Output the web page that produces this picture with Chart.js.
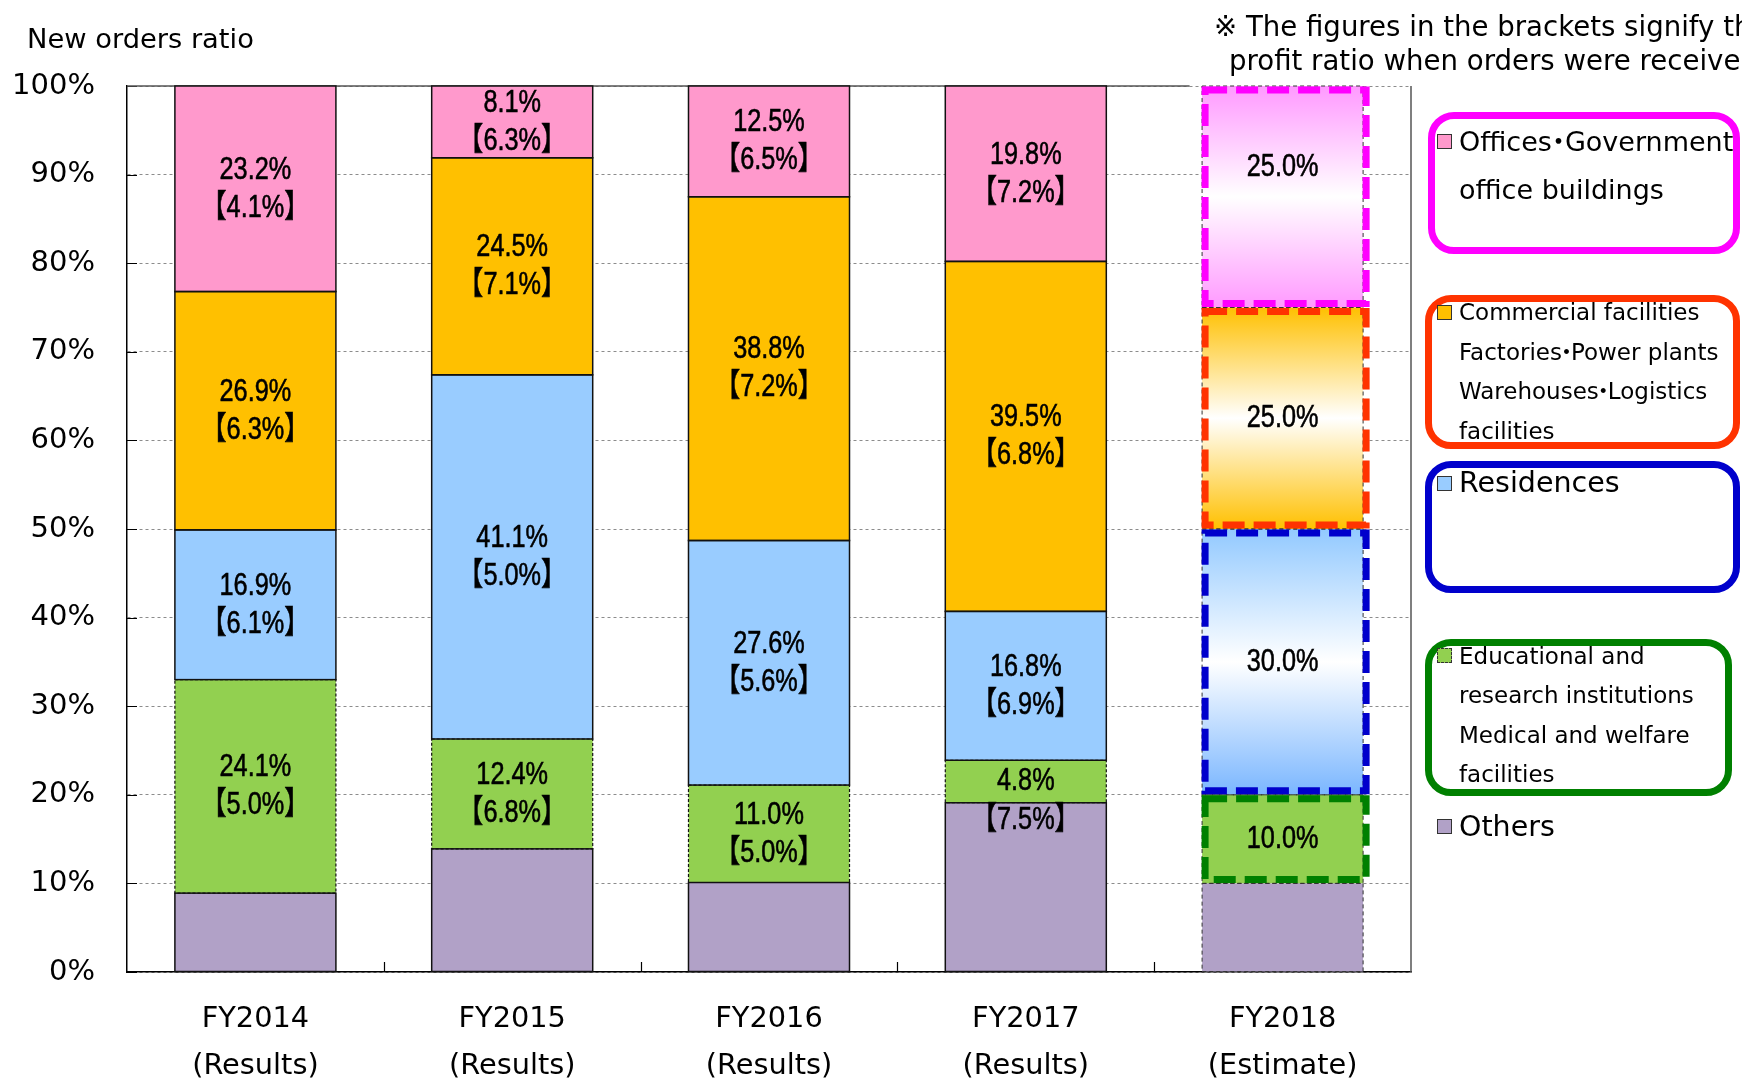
<!DOCTYPE html>
<html>
<head>
<meta charset="utf-8">
<script src="https://cdn.jsdelivr.net/npm/chart.js@4.4.0/dist/chart.umd.min.js"></script>
<style>
  html, body { margin: 0; padding: 0; background: #fff; overflow: hidden; }
  #wrap { position: relative; width: 1742px; height: 1080px; overflow: hidden;
          font-family: "DejaVu Sans", "Noto Sans CJK JP", sans-serif; color: #000; }
  #chart { position: absolute; left: 0; top: 0; }
  .txt { position: absolute; white-space: nowrap; line-height: 1; transform: translateY(-50%); }
  .box { position: absolute; box-sizing: border-box; border: 7px solid; border-radius: 26px; }
  .sq  { position: absolute; width: 15px; height: 15px; box-sizing: border-box; border: 1px solid #333; }
  .dot { margin: 0 -7px; }
</style>
</head>
<body>
<div id="wrap">
  <canvas id="chart" width="1742" height="1080"></canvas>
  <div class="txt" style="left:27px; top:39px; font-size:27.3px;">New orders ratio</div>
  <div class="txt" style="left:1214px; top:27px; font-size:27.6px;">※ The figures in the brackets signify the</div>
  <div class="txt" style="left:1229px; top:61px; font-size:27.6px;">profit ratio when orders were received</div>
  <div id="legend"></div>
</div>
<script>
"use strict";

const $ = id => document.getElementById(id);

// ── Data
const years      = ["FY2014", "FY2015", "FY2016", "FY2017", "FY2018"];
const phases     = ["(Results)", "(Results)", "(Results)", "(Results)", "(Estimate)"];
const others     = [8.9, 13.9, 10.1, 19.1, 10.0];
const education  = [24.1, 12.4, 11.0, 4.8, 10.0];
const residences = [16.9, 41.1, 27.6, 16.8, 30.0];
const commercial = [26.9, 24.5, 38.8, 39.5, 25.0];
const offices    = [23.2, 8.1, 12.5, 19.8, 25.0];
// gross profit ratio at order time (the bracket figures)
const eduProfit  = [5.0, 6.8, 5.0, 7.5, null];
const resProfit  = [6.1, 5.0, 5.6, 6.9, null];
const comProfit  = [6.3, 7.1, 7.2, 6.8, null];
const offProfit  = [4.1, 6.3, 6.5, 7.2, null];
const yTicks     = [0, 10, 20, 30, 40, 50, 60, 70, 80, 90, 100];

const legendNames = [
  ["Offices・Government", "office buildings"],
  ["Commercial facilities", "Factories・Power plants", "Warehouses・Logistics", "facilities"],
  ["Residences"],
  ["Educational and", "research institutions", "Medical and welfare", "facilities"],
  ["Others"],
];

const ESTIMATE = 4;   // index of the estimate bar
const LABEL_FONT = '32px "Liberation Sans", "Noto Sans CJK JP", sans-serif';
const LABEL_SQUEEZE = 0.79;

// ── Gradient fill for the estimate bar
function fillFor(color, grad) {
  return ctx => {
    const chart = ctx.chart, i = ctx.dataIndex;
    if (i !== ESTIMATE || !grad || !chart.chartArea) return color;
    const y = chart.scales.y;
    let start = 0;
    for (let k = 0; k < ctx.datasetIndex; k++) start += chart.data.datasets[k].data[i];
    const top = y.getPixelForValue(start + ctx.raw), bot = y.getPixelForValue(start);
    const g = chart.ctx.createLinearGradient(0, top, 0, bot);
    g.addColorStop(0, grad[0]); g.addColorStop(0.5, "#ffffff"); g.addColorStop(1, grad[1]);
    return g;
  };
}

function mkSet(label, data, profit, color, opts) {
  return Object.assign({
    label, data, profit,
    backgroundColor: fillFor(color, opts.grad),
    borderWidth: 0,
    barPercentage: 0.627, categoryPercentage: 1,
  }, opts);
}

const datasets = [
  mkSet(legendNames[4].join(" "), others,     null,      "#b1a1c7", { swatch: "#b1a1c7" }),
  mkSet(legendNames[3].join(" "), education,  eduProfit, "#92d050", { swatch: "#92d050", dotted: true, hi: "#008000" }),
  mkSet(legendNames[2].join(" "), residences, resProfit, "#99ccff", { swatch: "#99ccff", hi: "#0000cc", grad: ["#92c9ff", "#7ab6ff"] }),
  mkSet(legendNames[1].join(" "), commercial, comProfit, "#ffc000", { swatch: "#ffc000", hi: "#ff3300", grad: ["#ffc000", "#ffc000"] }),
  mkSet(legendNames[0].join(" "), offices,    offProfit, "#ff99cc", { swatch: "#ff99cc", hi: "#ff00ff", grad: ["#ff99ff", "#ff99ff"], top: true }),
];

// ── Frame: inward ticks, right border, solid 100% line
const framePlugin = {
  id: "frame",
  beforeDatasetsDraw(chart) {
    const c = chart.ctx, a = chart.chartArea, x = chart.scales.x, y = chart.scales.y;
    c.save();
    c.strokeStyle = "#000"; c.lineWidth = 1.2;
    c.beginPath();
    yTicks.forEach(v => { const py = Math.round(y.getPixelForValue(v)) + 0.5; c.moveTo(a.left, py); c.lineTo(a.left + 10, py); });
    for (let i = 1; i < years.length; i++) {
      const px = Math.round((x.getPixelForValue(i - 1) + x.getPixelForValue(i)) / 2) + 0.5;
      c.moveTo(px, a.bottom); c.lineTo(px, a.bottom - 10);
    }
    c.stroke();
    c.strokeStyle = "#555"; c.lineWidth = 1.5;
    c.beginPath();
    c.moveTo(a.right, a.top); c.lineTo(a.right, a.bottom);
    const topY = y.getPixelForValue(100);
    c.moveTo(a.left, topY); c.lineTo(x.getPixelForValue(ESTIMATE) - 93, topY);
    c.stroke();
    c.restore();
  }
};

// ── Segment outlines (solid / dotted / dashed estimate)
const outlinePlugin = {
  id: "outlines",
  afterDatasetsDraw(chart) {
    const c = chart.ctx;
    const rects = [];
    c.save();
    chart.data.datasets.forEach((ds, di) => {
      chart.getDatasetMeta(di).data.forEach((el, i) => {
        const { x, y, base, width } = el.getProps(["x", "y", "base", "width"], true);
        const r = { l: x - width / 2, t: y, w: width, h: base - y };
        if (i === ESTIMATE) {
          c.setLineDash([4, 3]); c.lineWidth = 1; c.strokeStyle = "#333";
          if (ds.hi) rects.push({ r, color: ds.hi });
        } else if (ds.dotted) {
          c.setLineDash([3, 2]); c.lineWidth = 1.2; c.strokeStyle = "#111";
        } else {
          c.setLineDash([]); c.lineWidth = 1.5; c.strokeStyle = "#111";
        }
        c.strokeRect(r.l, r.t, r.w, r.h);
      });
    });
    c.setLineDash([22, 9]); c.lineWidth = 7;
    rects.forEach(({ r, color }) => {
      c.strokeStyle = color;
      c.strokeRect(r.l + 3, r.t + 4, r.w, r.h - 8);
    });
    c.restore();
  }
};

// ── Value labels with bracketed profit ratio (condensed, slightly heavy)
function narrowText(c, text, x, y) {
  c.save();
  c.translate(x, y);
  c.scale(LABEL_SQUEEZE, 1);
  c.fillText(text, 0, 0);
  c.strokeText(text, 0, 0);
  c.restore();
}

const labelPlugin = {
  id: "segLabels",
  afterDatasetsDraw(chart) {
    const c = chart.ctx;
    c.save();
    c.font = LABEL_FONT; c.fillStyle = "#000"; c.strokeStyle = "#000"; c.lineWidth = 0.6;
    c.textAlign = "center"; c.textBaseline = "middle";
    chart.data.datasets.forEach((ds, di) => {
      if (!ds.profit) return;
      chart.getDatasetMeta(di).data.forEach((el, i) => {
        const { x, y, base } = el.getProps(["x", "y", "base"], true);
        const mid = (y + base) / 2, h = base - y;
        const val = ds.data[i].toFixed(1) + "%";
        const p = ds.profit[i];
        if (p == null) { narrowText(c, val, x, mid + (ds.top ? -30 : 0)); return; }
        const br = "【" + p.toFixed(1) + "%】";
        if (h < 60) { narrowText(c, val, x, mid); narrowText(c, br, x, mid + 39); }
        else        { narrowText(c, val, x, mid - 19); narrowText(c, br, x, mid + 19); }
      });
    });
    c.restore();
  }
};

new Chart($("chart").getContext("2d"), {
  type: "bar",
  data: { labels: years.map((y, i) => [y, phases[i]]), datasets },
  options: {
    responsive: false, animation: false,
    layout: { padding: { left: 0, top: 86, right: 331, bottom: 0 } },
    plugins: { legend: { display: false }, tooltip: { enabled: false } },
    scales: {
      x: {
        stacked: true,
        grid: { display: false, drawTicks: false },
        border: { display: true, color: "#000", width: 1.5 },
        ticks: { color: "#000", padding: 24, font: { family: "DejaVu Sans", size: 28.8, lineHeight: 1.63 }, maxRotation: 0 },
        afterFit: s => { s.height = 108; },
      },
      y: {
        stacked: true, min: 0, max: 100,
        grid: { color: "#8c8c8c", lineWidth: 1, drawTicks: false },
        border: { display: true, color: "#000", width: 1.5, dash: [3, 3] },
        ticks: { stepSize: 10, color: "#000", padding: 32, font: { family: "DejaVu Sans", size: 29 }, callback: v => v + "%" },
        afterFit: s => { s.width = 127; },
      },
    },
  },
  plugins: [framePlugin, outlinePlugin, labelPlugin],
});

// ── Legend (boxed groups on the right)
const LEGEND_LAYOUT = [
  { box: [1428, 112, 312, 142], color: "#ff00ff", first: 141, gap: 48, size: 27, set: 4 },
  { box: [1425, 295, 315, 154], color: "#ff3300", first: 312, gap: 39.6, size: 23, set: 3 },
  { box: [1425, 461, 315, 132], color: "#0000cc", first: 483, gap: 0, size: 28.5, set: 2 },
  { box: [1425, 639, 307, 157], color: "#008000", first: 655.5, gap: 39.5, size: 23, set: 1 },
  { box: null, color: null, first: 826.5, gap: 0, size: 28.5, set: 0 },
];

const legend = $("legend");
LEGEND_LAYOUT.forEach((lay, k) => {
  if (lay.box) {
    const b = document.createElement("div");
    b.className = "box";
    b.style.cssText = `left:${lay.box[0]}px;top:${lay.box[1]}px;width:${lay.box[2]}px;height:${lay.box[3]}px;border-color:${lay.color};`;
    legend.appendChild(b);
  }
  const ds = datasets[lay.set];
  const sq = document.createElement("div");
  sq.className = "sq";
  sq.style.cssText = `left:1437px;top:${lay.first - 7.5}px;background:${ds.swatch};` + (ds.dotted ? "border-style:dashed;" : "");
  legend.appendChild(sq);
  legendNames[k].forEach((line, j) => {
    const t = document.createElement("div");
    t.className = "txt";
    t.style.cssText = `left:1459px;top:${lay.first + j * lay.gap}px;font-size:${lay.size}px;`;
    t.innerHTML = line.replace("・", '<span class="dot">・</span>');
    legend.appendChild(t);
  });
});
</script>
</body>
</html>
